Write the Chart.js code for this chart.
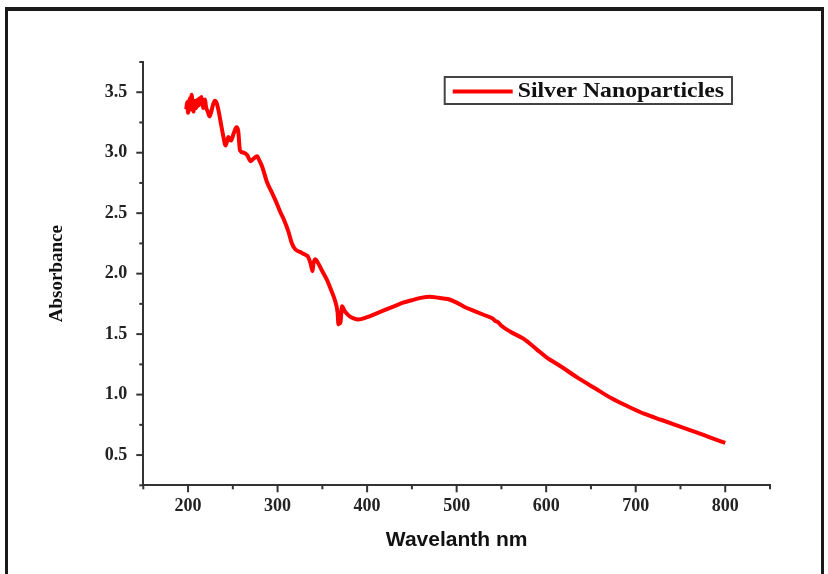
<!DOCTYPE html>
<html>
<head>
<meta charset="utf-8">
<script src="https://cdn.jsdelivr.net/npm/chart.js@4"></script>
<style>
  html, body { margin: 0; padding: 0; background: #fff; }
  #frame {
    position: absolute; left: 5px; top: 7px; width: 813px; height: 700px;
    border-left: 3px solid #1a1a1a; border-top: 4px solid #1a1a1a; border-right: 3px solid #1a1a1a;
  }
  #wrap { position: absolute; left: 0; top: 0; width: 828px; height: 574px; }
</style>
</head>
<body>
<div id="frame"></div>
<div id="wrap"><canvas id="myChart" width="828" height="574"></canvas></div>
<script>

// wavelength (nm) and absorbance
const wavelength = [
  198, 199, 200, 201, 202, 203, 204, 205, 206, 207, 208, 209, 210, 211, 212, 213, 214, 215,
  216, 217, 218, 219, 220, 222, 224, 226, 228, 230, 232, 234, 236, 239,
  242, 245, 248, 251, 254, 256, 258, 262, 266, 270, 273, 277, 280, 283, 288, 293, 298, 303,
  308, 312, 316, 320, 325, 330, 334, 337, 339, 340, 342, 345, 350, 355, 360, 364, 367, 368,
  369, 370, 372, 375, 380, 385, 390, 400, 410, 420, 430, 440, 450, 460, 470, 480, 490, 500,
  510, 520, 530, 540, 543, 546, 550, 560, 575, 590, 600, 617, 635, 655, 673, 692, 710, 729,
  748, 767, 785, 800
];
const absorbance = [
  3.36, 3.42, 3.33, 3.40, 3.45, 3.36, 3.48, 3.38, 3.34, 3.41, 3.43, 3.37, 3.40, 3.44, 3.39, 3.45, 3.41, 3.46,
  3.40, 3.37, 3.43, 3.44, 3.38, 3.34, 3.30, 3.34, 3.40, 3.43, 3.41, 3.35, 3.27, 3.15,
  3.06, 3.13, 3.10, 3.16, 3.21, 3.18, 3.02, 3.00, 2.98, 2.93, 2.95, 2.97, 2.93, 2.88, 2.76, 2.68, 2.60, 2.51,
  2.43, 2.35, 2.25, 2.20, 2.18, 2.16, 2.14, 2.08, 2.02, 2.08, 2.12, 2.09, 2.02, 1.95, 1.86, 1.78, 1.68, 1.58,
  1.65, 1.59, 1.73, 1.69, 1.65, 1.63, 1.62, 1.64, 1.67, 1.70, 1.73, 1.76, 1.78, 1.80, 1.81, 1.80, 1.79, 1.76,
  1.72, 1.69, 1.66, 1.63, 1.61, 1.60, 1.57, 1.52, 1.46, 1.37, 1.31, 1.23, 1.14, 1.05, 0.97, 0.90, 0.84, 0.79,
  0.74, 0.69, 0.64, 0.60
];

const xTickLabels = [200, 300, 400, 500, 600, 700, 800];
const yTickLabels = [0.5, 1.0, 1.5, 2.0, 2.5, 3.0, 3.5];

const seriesName = 'Silver Nanoparticles';
const lineColor = 'rgb(255, 0, 0)';
const axisColor = '#333';

// outward ticks, long on labelled values, short in between
const tickMarks = {
  id: 'tickMarks',
  afterDraw(chart) {
    const ctx = chart.ctx;
    const xs = chart.scales.x, ys = chart.scales.y;
    ctx.save();
    ctx.strokeStyle = axisColor;
    ctx.lineWidth = 2;
    xs.ticks.forEach(t => {
      const px = xs.getPixelForValue(t.value);
      const len = xTickLabels.includes(Math.round(t.value)) ? 7 : 4;
      ctx.beginPath();
      ctx.moveTo(px, xs.top);
      ctx.lineTo(px, xs.top + len);
      ctx.stroke();
    });
    ys.ticks.forEach(t => {
      const py = ys.getPixelForValue(t.value);
      const major = yTickLabels.some(v => Math.abs(v - t.value) < 1e-6);
      const len = major ? 7 : 4;
      ctx.beginPath();
      ctx.moveTo(ys.right, py);
      ctx.lineTo(ys.right - len, py);
      ctx.stroke();
    });
    ctx.restore();
  }
};

// boxed legend inside the plot, top right
const boxLegend = {
  id: 'boxLegend',
  afterDraw(chart) {
    const ctx = chart.ctx;
    const area = chart.chartArea;
    const ds = chart.data.datasets[0];
    const stretch = 1.13;
    ctx.save();
    ctx.font = 'bold 21px "Liberation Serif", "Times New Roman", serif';
    const tw = ctx.measureText(ds.label).width * stretch;
    const boxW = 8 + 60 + 5 + tw + 8;
    const boxH = 27;
    const bx = area.right - 38 - boxW;
    const by = area.top + 15;
    ctx.strokeStyle = '#444';
    ctx.lineWidth = 2;
    ctx.strokeRect(bx, by, boxW, boxH);
    ctx.strokeStyle = ds.borderColor;
    ctx.lineWidth = 4;
    ctx.beginPath();
    ctx.moveTo(bx + 8, by + boxH / 2 + 1);
    ctx.lineTo(bx + 68, by + boxH / 2 + 1);
    ctx.stroke();
    ctx.fillStyle = '#111';
    ctx.textBaseline = 'middle';
    ctx.translate(bx + 73, by + boxH / 2 + 1);
    ctx.scale(stretch, 1);
    ctx.fillText(ds.label, 0, 0);
    ctx.restore();
  }
};

const data = {
  datasets: [{
    label: seriesName,
    data: wavelength.map((w, i) => ({ x: w, y: absorbance[i] })),
    borderColor: lineColor,
    backgroundColor: lineColor,
    borderWidth: 4,
    pointRadius: 0,
    cubicInterpolationMode: 'monotone',
    fill: false
  }]
};

const tickFont = { family: '"Liberation Serif", "Times New Roman", serif', size: 18, weight: 'bold' };

const config = {
  type: 'line',
  data: data,
  options: {
    responsive: false,
    animation: false,
    layout: { padding: { left: 0, top: 62, right: 58, bottom: 0 } },
    plugins: { legend: { display: false }, tooltip: { enabled: false } },
    scales: {
      x: {
        type: 'linear',
        min: 150,
        max: 850,
        afterFit: s => { s.height = 88.7; },
        grid: { display: false, drawTicks: false },
        border: { display: true, color: axisColor, width: 2 },
        ticks: {
          stepSize: 50,
          padding: 10,
          color: '#222',
          font: tickFont,
          maxRotation: 0,
          autoSkip: false,
          callback: v => xTickLabels.includes(Math.round(v)) ? String(Math.round(v)) : ''
        },
        title: {
          display: true,
          text: 'Wavelanth nm',
          color: '#111',
          font: { family: '"Liberation Sans", Arial, sans-serif', size: 21, weight: 'bold' },
          padding: { top: 0, bottom: 21 }
        }
      },
      y: {
        min: 0.25,
        max: 3.75,
        afterFit: s => { s.width = 143.3; },
        grid: { display: false, drawTicks: false },
        border: { display: true, color: axisColor, width: 2 },
        ticks: {
          stepSize: 0.25,
          padding: 16,
          color: '#222',
          font: tickFont,
          autoSkip: false,
          callback: v => yTickLabels.some(t => Math.abs(t - v) < 1e-6) ? v.toFixed(1) : ''
        },
        title: {
          display: true,
          text: 'Absorbance',
          color: '#111',
          font: { family: '"Liberation Serif", "Times New Roman", serif', size: 19, weight: 'bold' },
          padding: { top: 46, bottom: 0 }
        }
      }
    }
  },
  plugins: [tickMarks, boxLegend]
};

const myChart = new Chart(
  document.getElementById('myChart'),
  config
);
</script>
</body>
</html>
